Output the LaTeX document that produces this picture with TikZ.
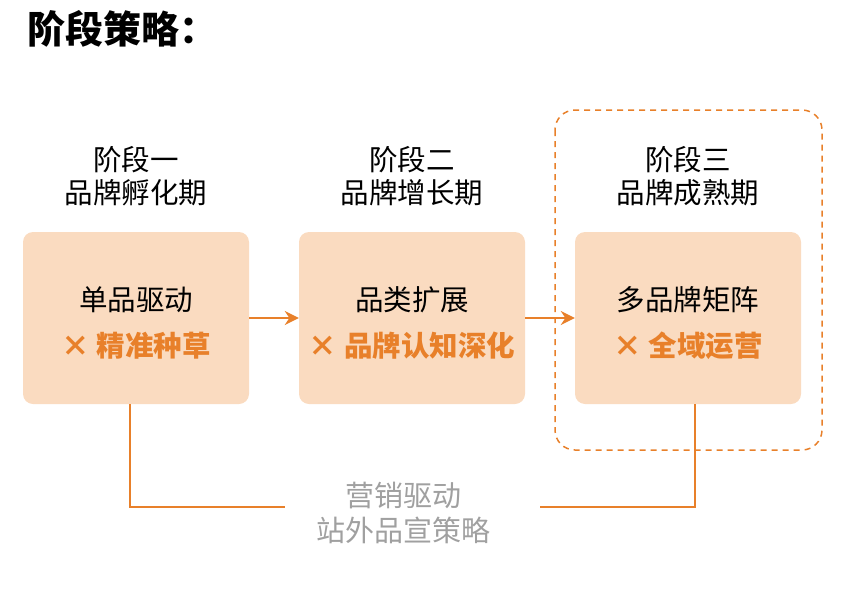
\documentclass[tikz,border=0pt]{standalone}
\usepackage{fontspec}
\setmainfont{Noto Sans CJK SC}
\usetikzlibrary{arrows.meta}
\usetikzlibrary{positioning}
\definecolor{myorange}{RGB}{232,128,42}
\definecolor{mypeach}{RGB}{250,219,192}
\definecolor{mygray}{RGB}{160,160,160}
\newcommand\mytext[2]{#1\\[10pt]{\bfseries\color{myorange}× #2}}

\begin{document}
\begin{tikzpicture}[x=1pt,y=-1pt,
stagebox/.style={
  rectangle,
  rounded corners=10pt,
  fill=mypeach,
  minimum width=226pt,
  minimum height=172pt},
boxtext/.style={
  align=center,
  font=\fontsize{28.5}{36}\selectfont},
stagelabel/.style={
  align=center,
  font=\fontsize{28.5}{33}\selectfont},
link/.style={
  draw=myorange,
  line width=2pt}
]
\useasboundingbox (0,0) rectangle (844,600);
\node[anchor=west,font=\fontsize{38}{42}\selectfont\bfseries] (title) at (24,29) {阶段策略：};
% phase boxes
\node[stagebox] (a) at (136,318) {};
\node[stagebox] (b) at (412,318) {};
\node[stagebox] (c) at (688,318) {};
\node[boxtext] (ta) at ([yshift=-5pt]a.center) {\mytext{单品驱动}{精准种草}};
\node[boxtext] (tb) at ([yshift=-5pt]b.center) {\mytext{品类扩展}{品牌认知深化}};
\node[boxtext] (tc) at ([yshift=-5pt]c.center) {\mytext{多品牌矩阵}{全域运营}};
\node[stagelabel,above=22pt of a] (la) {阶段一\\品牌孵化期};
\node[stagelabel,above=22pt of b] (lb) {阶段二\\品牌增长期};
\node[stagelabel,above=22pt of c] (lc) {阶段三\\品牌成熟期};
% dashed frame round phase three
\draw[myorange,line width=1.5pt,dash pattern=on 6pt off 5pt,rounded corners=20pt] (555,110) rectangle (822,450);
\draw [link,-{Stealth[length=14pt,width=14pt]}] (a) -- (b);
\draw [link,-{Stealth[length=14pt,width=14pt]}] (b) -- (c);
% marketing line
\node[stagelabel,text=mygray,font=\fontsize{29}{35}\selectfont] (mkt) at (403,513) {营销驱动\\站外品宣策略};
\coordinate (ml) at (285,507);
\coordinate (mr) at (540,507);
\draw [link] ([xshift=-6pt]a.south) |- (ml);
\draw [link] (mr) -| ([xshift=7pt]c.south);
\end{tikzpicture}
\end{document}
